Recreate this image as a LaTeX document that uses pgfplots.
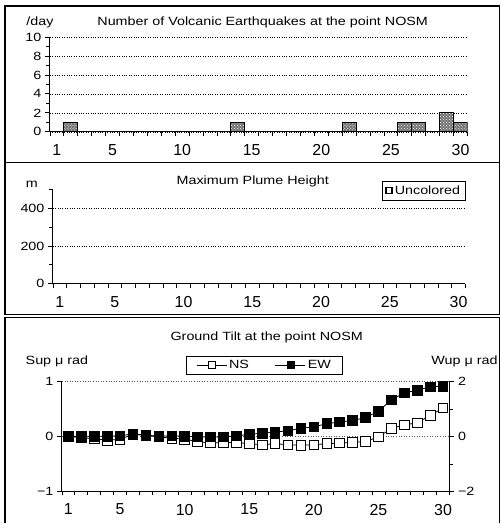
\documentclass[border=0pt]{standalone}
\usepackage{pgfplots}
\pgfplotsset{compat=1.18}
\usepackage{fontspec}
\setmainfont{Liberation Sans}
\newfontfamily\wide{Liberation Sans}[FakeStretch=1.2]
\usetikzlibrary{patterns}
\newcommand{\tfont}{\wide\fontsize{12}{12}\selectfont}
\begin{document}
\begin{tikzpicture}[x=1bp,y=1bp]
\path (0,0) rectangle (501,524);
% panel frames
\draw[line width=1.2bp] (5,518) rectangle (500,361.5);
\draw[line width=1.2bp] (5,361.5) rectangle (500,209);
\draw[line width=1.2bp] (5,0) -- (5,206) -- (500,206) -- (500,0);

\pgfplotsset{
 common/.style={
  scale only axis, anchor=south west,
  xmin=0.5, xmax=30.5,
  xtick={1,5,10,15,20,25,30},
  minor xtick={0.5,1.5,...,30.5},
  major x tick style={draw=none},
  tick align=outside,
  major tick length=5bp, minor tick length=4bp,
  tick style={black, line width=0.8bp},
  axis line style={line width=0.9bp},
  /pgf/number format/assume math mode=true,
  xticklabel style={font=\fontsize{16}{16}\selectfont, yshift=-4bp},
  yticklabel style={font=\wide\fontsize{12}{12}\selectfont},
  ymajorgrids, grid style={dotted, black, line width=0.6bp},
  axis x line*=bottom, axis y line*=left,
 },
 tiltleg/.style={
  legend image code/.code={\draw[mark repeat=2,mark phase=2,##1] plot coordinates {(0bp,0bp) (15bp,0bp) (30bp,0bp)};},
 }
}

% ---------- Panel 1: earthquakes ----------
\begin{axis}[common, at={(50bp,392bp)}, width=418bp, height=95bp,
  ymin=0, ymax=10, ytick={0,2,...,10}, minor ytick={1,3,...,9}]
\addplot[ybar, bar width=1, bar shift=0pt, draw=black, line width=0.9bp,
  fill=black!55, postaction={pattern=crosshatch dots, pattern color=white}]
  coordinates {(2,1) (14,1) (22,1) (26,1) (27,1) (29,2) (30,1)};
\end{axis}
\node[font=\tfont] at (40,502) {/day};
\node[font=\tfont] at (263,502) {Number of Volcanic Earthquakes at the point NOSM};

% ---------- Panel 2: plume height ----------
\begin{axis}[common, at={(53bp,240bp)}, width=413bp, height=94bp,
  ymin=0, ymax=500, ytick={0,200,400}, minor ytick={100,300,500},
  legend style={at={(1,1.096)}, anchor=north east, draw=black, line width=0.8bp,
    font=\tfont, inner xsep=3bp, inner ysep=2.5bp}]
\addlegendimage{legend image code/.code={\draw[line width=1.3bp, fill=white] (4bp,-3bp) rectangle (10bp,3bp);}}
\addlegendentry{Uncolored}
\end{axis}
\node[font=\tfont] at (32,339) {m};
\node[font=\tfont] at (253,342) {Maximum Plume Height};

% ---------- Panel 3: ground tilt ----------
\begin{axis}[common, at={(62bp,32bp)}, width=388bp, height=110bp,
  ymin=-1, ymax=1, ytick={-1,0,1}, yticklabels={−1,0,1},
  grid style={dotted, black!65, line width=0.7bp}]
\addplot[black, line width=0.8bp, mark=square*, mark size=4.8bp,
  mark options={fill=white, draw=black, line width=0.8bp}]
  coordinates {(1,0) (2,-0.02) (3,-0.04) (4,-0.07) (5,-0.05) (6,0.04) (7,0.02)
  (8,-0.01) (9,-0.03) (10,-0.05) (11,-0.09) (12,-0.12) (13,-0.11) (14,-0.11)
  (15,-0.13) (16,-0.15) (17,-0.13) (18,-0.15) (19,-0.16) (20,-0.15) (21,-0.13)
  (22,-0.12) (23,-0.11) (24,-0.09) (25,-0.01) (26,0.15) (27,0.21) (28,0.25)
  (29,0.38) (30,0.52)};
\end{axis}
\begin{axis}[scale only axis, anchor=south west, at={(62bp,32bp)}, width=388bp, height=110bp,
  xmin=0.5, xmax=30.5, ymin=-2, ymax=2,
  axis y line*=right, axis x line=none,
  ytick={-2,0,2}, yticklabels={−2,0,2}, minor ytick={-1,1},
  tick align=outside, major tick length=5bp, minor tick length=4bp,
  tick style={black, line width=0.8bp}, axis line style={line width=0.9bp},
  yticklabel style={font=\wide\fontsize{12}{12}\selectfont},
  tiltleg,
  legend columns=2,
  legend image post style={mark size=3.5bp},
  legend style={at={(0.523,1.15)}, anchor=center, draw=black, line width=0.8bp,
    font=\tfont, inner xsep=10bp, inner ysep=2bp,
    /tikz/column 2/.style={column sep=24bp}}]
\addlegendimage{black, line width=0.8bp, mark=square*, mark options={fill=white, draw=black, line width=0.8bp}}
\addlegendentry{NS}
\addplot[black, line width=0.8bp, mark=square*, mark size=4.8bp,
  mark options={fill=black, draw=black, line width=0.8bp}]
  coordinates {(1,0) (2,0.01) (3,0.01) (4,0.01) (5,0.02) (6,0.1) (7,0.05)
  (8,0.01) (9,0.02) (10,0.01) (11,-0.01) (12,-0.02) (13,-0.01) (14,0.02)
  (15,0.08) (16,0.12) (17,0.16) (18,0.21) (19,0.3) (20,0.35) (21,0.47)
  (22,0.53) (23,0.58) (24,0.69) (25,0.92) (26,1.33) (27,1.59) (28,1.68)
  (29,1.81) (30,1.83)};
\addlegendentry{EW}
\end{axis}
\node[font=\tfont] at (267,186) {Ground Tilt at the point NOSM};
\node[font=\tfont] at (57,162) {Sup μ rad};
\node[font=\tfont] at (465,162) {Wup μ rad};
\end{tikzpicture}
\end{document}
